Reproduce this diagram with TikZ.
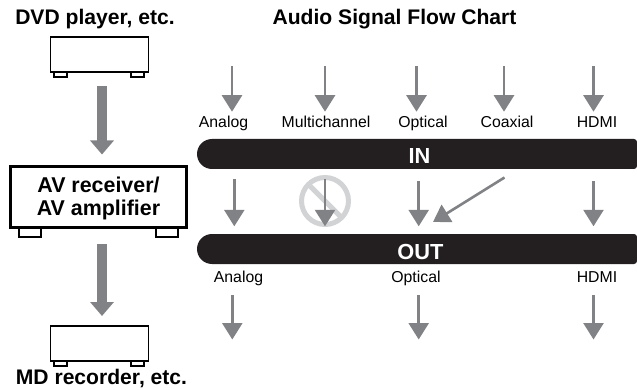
\documentclass[tikz,border=0pt]{standalone}
\usepackage{fontspec}
\setmainfont{Liberation Sans}
\usetikzlibrary{arrows.meta,calc}
\definecolor{arrowgray}{HTML}{808285}
\definecolor{barblack}{HTML}{231F20}
\definecolor{ringgray}{HTML}{D1D3D4}
\tikzset{
  x=1pt,y=-1pt,
  biglabel/.style={font=\fontsize{21.1}{24}\selectfont\bfseries,text=black,inner sep=0pt,anchor=base},
  small/.style={font=\fontsize{15.8}{18}\selectfont,text=black,inner sep=0pt,anchor=base},
  barlabel/.style={font=\fontsize{21.8}{24}\selectfont\bfseries,text=white,inner sep=0pt,anchor=base},
  thinarrow/.style={draw=arrowgray,line width=2.6pt,-{Triangle[length=16.5pt,width=20pt]}},
  bigarrow/.style={draw=arrowgray,line width=10.5pt,-{Triangle[length=14pt,width=23pt]}},
  unitbox/.style={draw=black,fill=white,line width=1.2pt,minimum width=98pt,minimum height=35pt,inner sep=0pt},
  bigbox/.style={draw=black,fill=white,line width=2.2pt,minimum width=176pt,minimum height=61pt,inner sep=0pt},
  bigtext/.style={inner sep=0pt,align=center,font=\fontsize{21.4}{22.5}\selectfont\bfseries},
  foot/.style={draw=black,fill=white,line width=1.1pt,inner sep=0pt},
  bigfoot/.style={draw=black,fill=white,line width=2pt,inner sep=0pt},
  barshape/.style={fill=barblack},
}
\begin{document}
\begin{tikzpicture}
\useasboundingbox (0,0) rectangle (637,390);
% left column
\node[biglabel] (dvdlabel) at (95,25) {DVD player, etc.};
\node[biglabel] (title) at (394.5,25) {Audio Signal Flow Chart};
\draw[foot] (54,72) rectangle (67,77);
\draw[foot] (131,72) rectangle (144,77);
\node[unitbox] (dvd) at (99.5,54.5) {};
\draw[bigfoot] (19,228) rectangle (41,237);
\draw[bigfoot] (156,228) rectangle (178,237);
\node[bigbox] (av) at (98.5,197) {};
\node[bigtext] (avtext) at (98.5,198.3) {AV receiver/\\AV amplifier};
\draw[foot] (54,361) rectangle (67,366);
\draw[foot] (131,361) rectangle (144,366);
\node[unitbox] (md) at (99.5,343.5) {};
\node[biglabel] (mdlabel) at (101.5,384) {MD recorder, etc.};
\coordinate (b1s) at (102,86);
\coordinate (b1e) at (102,154.5);
\coordinate (b2s) at (102,244);
\coordinate (b2e) at (102,316);
\draw[bigarrow] (b1s) -- (b1e);
\draw[bigarrow] (b2s) -- (b2e);
% bars
\fill[barshape,rounded corners=15pt] (300,139) -- (197,139) -- (197,169) -- (300,169) [rounded corners=3pt] -- (637,169) -- (637,139) -- cycle;
\fill[barshape,rounded corners=15pt] (300,234) -- (197,234) -- (197,264) -- (300,264) [rounded corners=3pt] -- (637,264) -- (637,234) -- cycle;
\node[barlabel] (inlabel) at (419.5,164) {IN};
\node[barlabel] (outlabel) at (420.5,259) {OUT};
% input labels
\node[small] (ia) at (223.5,127.5) {Analog};
\node[small] (im) at (326,127.5) {Multichannel};
\node[small] (io) at (423,127.5) {Optical};
\node[small] (ic) at (507,127.5) {Coaxial};
\node[small] (ih) at (597,127.5) {HDMI};
% input arrows
\coordinate (t1) at (232,66.5); \coordinate (t1e) at (232,111.7);
\coordinate (t2) at (325,66.5); \coordinate (t2e) at (325,111.7);
\coordinate (t3) at (416.5,66.5); \coordinate (t3e) at (416.5,111.7);
\coordinate (t4) at (504,66.5); \coordinate (t4e) at (504,111.7);
\coordinate (t5) at (593.5,66.5); \coordinate (t5e) at (593.5,111.7);
\foreach \a in {1,...,5} \draw[thinarrow] (t\a) -- (t\a e);
% prohibited sign
\coordinate (nosign) at (325,201);
\draw[ringgray,line width=5pt] (nosign) circle[radius=23.5];
\draw[ringgray,line width=5pt] ($(nosign)+(-17,-17)$) -- ($(nosign)+(17,17)$);
% middle arrows
\coordinate (m1) at (234.3,179); \coordinate (m1e) at (234.3,226.3);
\coordinate (m2) at (325,179); \coordinate (m2e) at (325,226.3);
\coordinate (m3) at (418.7,181.5); \coordinate (m3e) at (418.7,226.3);
\coordinate (m4) at (593.5,181.5); \coordinate (m4e) at (593.5,226.3);
\foreach \a in {1,...,4} \draw[thinarrow] (m\a) -- (m\a e);
\coordinate (d1) at (504.5,177.5); \coordinate (d1e) at (433,222);
\draw[thinarrow] (d1) -- (d1e);
% output labels
\node[small] (oa) at (238.5,282) {Analog};
\node[small] (oo) at (416,282) {Optical};
\node[small] (oh) at (597,282) {HDMI};
% output arrows
\coordinate (o1) at (232.3,295); \coordinate (o1e) at (232.3,339.5);
\coordinate (o2) at (418.7,295); \coordinate (o2e) at (418.7,339.5);
\coordinate (o3) at (593.5,295); \coordinate (o3e) at (593.5,339.5);
\foreach \a in {1,2,3} \draw[thinarrow] (o\a) -- (o\a e);
\end{tikzpicture}
\end{document}
